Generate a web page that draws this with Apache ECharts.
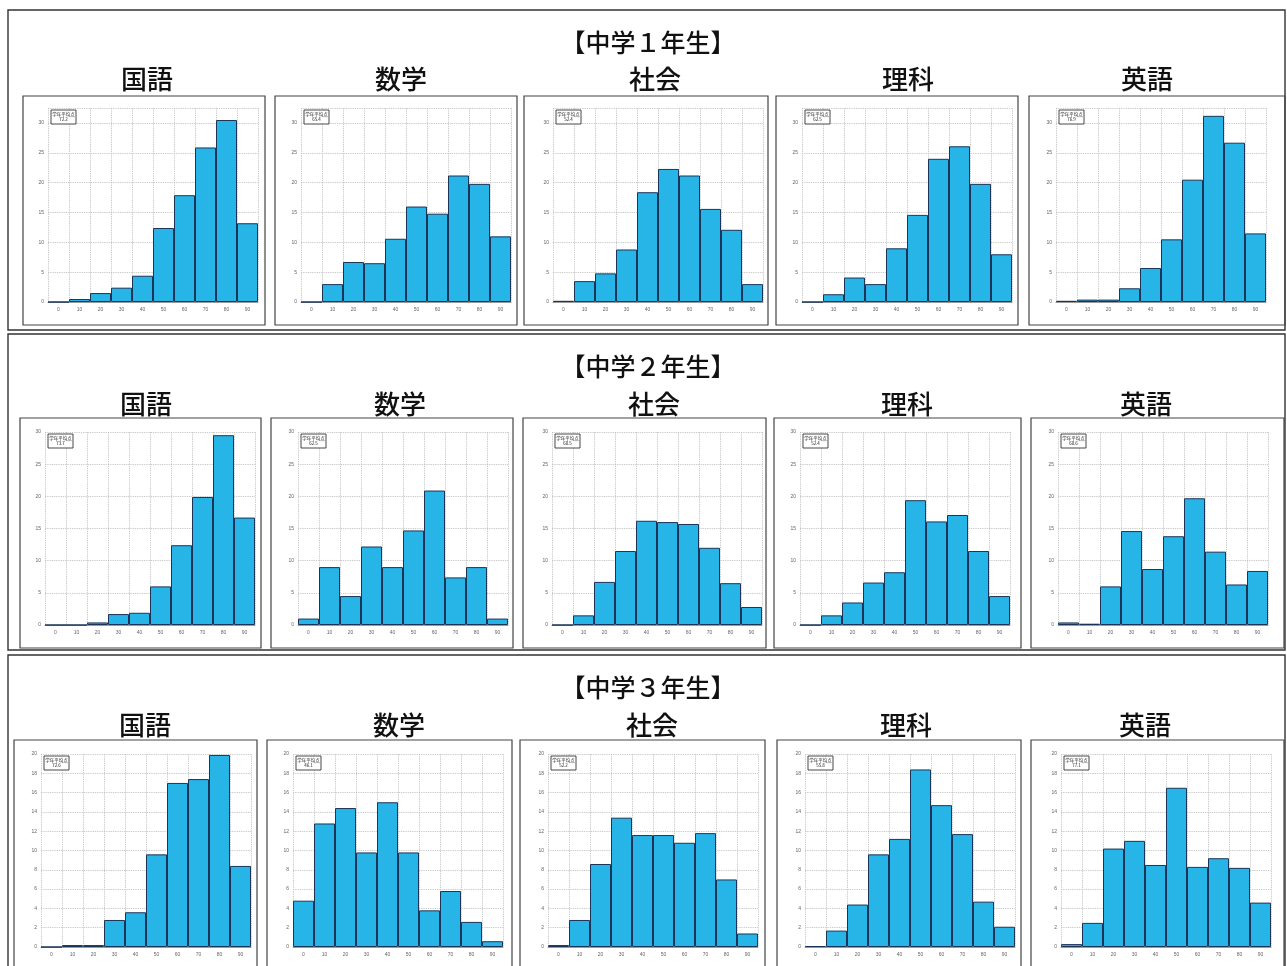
<!DOCTYPE html>
<html><head><meta charset="utf-8">
<script src="https://cdn.jsdelivr.net/npm/echarts@6/dist/echarts.min.js"></script>
<style>html,body{margin:0;padding:0;background:#fff;overflow:hidden}#c{width:1287px;height:966px}</style>
</head><body><div id="c"></div><script>
// ---------- data ----------
const binLabels = ['0','10','20','30','40','50','60','70','80','90'];
const subjects = ['国語','数学','社会','理科','英語'];
const gradeTitles = ['【中学１年生】','【中学２年生】','【中学３年生】'];

// 中学1年生 (y labels 0-30, step 5)
const g1Kokugo = [0, 0.5, 1.5, 2.4, 4.4, 12.4, 17.9, 25.9, 30.5, 13.2];
const g1Sugaku = [0, 3.0, 6.7, 6.5, 10.6, 16.0, 14.8, 21.2, 19.8, 11.0];
const g1Shakai = [0.2, 3.5, 4.8, 8.8, 18.4, 22.3, 21.2, 15.6, 12.1, 3.0];
const g1Rika   = [0, 1.3, 4.1, 3.0, 9.0, 14.6, 24.0, 26.1, 19.8, 8.0];
const g1Eigo   = [0.2, 0.4, 0.4, 2.3, 5.7, 10.5, 20.5, 31.2, 26.7, 11.5];
// 中学2年生 (y labels 0-30, step 5)
const g2Kokugo = [0, 0, 0.4, 1.7, 1.9, 6.0, 12.4, 19.9, 29.5, 16.7];
const g2Sugaku = [1.0, 9.0, 4.5, 12.2, 9.0, 14.7, 20.9, 7.4, 9.0, 1.0];
const g2Shakai = [0, 1.5, 6.7, 11.5, 16.2, 16.0, 15.7, 12.0, 6.5, 2.8];
const g2Rika   = [0, 1.5, 3.5, 6.6, 8.2, 19.4, 16.1, 17.1, 11.5, 4.5];
const g2Eigo   = [0.4, 0.2, 6.0, 14.6, 8.7, 13.8, 19.7, 11.4, 6.3, 8.4];
// 中学3年生 (y labels 0-20, step 2)
const g3Kokugo = [0, 0.2, 0.2, 2.8, 3.6, 9.6, 17.0, 17.4, 19.9, 8.4];
const g3Sugaku = [4.8, 12.8, 14.4, 9.8, 15.0, 9.8, 3.8, 5.8, 2.6, 0.6];
const g3Shakai = [0.2, 2.8, 8.6, 13.4, 11.6, 11.6, 10.8, 11.8, 7.0, 1.4];
const g3Rika   = [0.1, 1.7, 4.4, 9.6, 11.2, 18.4, 14.7, 11.7, 4.7, 2.1];
const g3Eigo   = [0.3, 2.5, 10.2, 11.0, 8.5, 16.5, 8.3, 9.2, 8.2, 4.6];

const meanLabel = '学年平均点';
const g1Means = ['72.2', '65.4', '52.4', '62.5', '76.9'];
const g2Means = ['73.7', '62.5', '60.5', '52.4', '60.6'];
const g3Means = ['72.6', '46.1', '52.2', '55.8', '77.1'];

const yStepByGrade = [5, 5, 2];
const yTopTick = [30, 30, 20];

// ---------- layout ----------
const rowsData = [
  [g1Kokugo, g1Sugaku, g1Shakai, g1Rika, g1Eigo],
  [g2Kokugo, g2Sugaku, g2Shakai, g2Rika, g2Eigo],
  [g3Kokugo, g3Sugaku, g3Shakai, g3Rika, g3Eigo]
];
const rowsMeans = [g1Means, g2Means, g3Means];
const L = {
  panels: [[8,10,1277,320],[8,334,1277,316],[8,655,1277,340]],
  titleY: [42, 366, 687],
  titleX: 648,
  subjY: [79, 404, 725],
  subjX: [[147,401,655,908,1147],[146,400,654,907,1146],[145,399,652,906,1145]],
  frames: [
    [[23,265],[275,517],[524,768],[776,1018],[1029,1285]],
    [[20,261],[271,513],[523,766],[774,1021],[1031,1284]],
    [[14,257],[267,512],[520,765],[777,1021],[1031,1284]]
  ],
  frameY: [[96,325],[418,648],[740,980]],
  plotLeft: [[48,301,553,802,1056],[45,298,552,800,1058],[41,293,548,805,1061]],
  plotW: 210,
  zeroY: [302, 625, 947],
  tickTopY: [123, 432, 754],
  extraTop: [15, 0, 0]
};

const FONT = '"Noto Sans CJK JP", "Noto Sans", sans-serif';
const grids = [], xAxes = [], yAxes = [], series = [], graphics = [];

// panels
L.panels.forEach(p => graphics.push({type:'rect', shape:{x:p[0],y:p[1],width:p[2],height:p[3]},
  style:{fill:'none', stroke:'#333', lineWidth:1.4}, silent:true}));

for (let r = 0; r < 3; r++) {
  graphics.push({type:'text', x:L.titleX, y:L.titleY[r], style:{text:gradeTitles[r], font:'500 25px '+FONT,
    fill:'#111', align:'center', verticalAlign:'middle'}});
  const unitPx = (L.zeroY[r] - L.tickTopY[r]) / yTopTick[r];
  const yMax = yTopTick[r] + L.extraTop[r] / unitPx;
  const top = L.zeroY[r] - yMax * unitPx;
  for (let c = 0; c < 5; c++) {
    const i = r * 5 + c;
    const fr = L.frames[r][c];
    graphics.push({type:'rect', shape:{x:fr[0], y:L.frameY[r][0], width:fr[1]-fr[0], height:L.frameY[r][1]-L.frameY[r][0]},
      style:{fill:'none', stroke:'#444', lineWidth:1.2}, silent:true});
    graphics.push({type:'text', x:L.subjX[r][c], y:L.subjY[r], style:{text:subjects[c], font:'500 26px '+FONT,
      fill:'#111', align:'center', verticalAlign:'middle'}});
    const left = L.plotLeft[r][c];
    grids.push({left:left, top:top, width:L.plotW, height:L.zeroY[r]-top, containLabel:false});
    xAxes.push({type:'category', gridIndex:i, data:binLabels,
      axisLine:{show:true, lineStyle:{color:'#888', width:0.8}}, axisTick:{show:false},
      axisLabel:{fontSize:5, color:'#666', margin:5, interval:0},
      splitLine:{show:true, lineStyle:{color:'#bbb', type:'dotted', width:0.9}}});
    const step = yStepByGrade[r];
    yAxes.push({type:'value', gridIndex:i, min:0, max:yMax, interval:step,
      axisLine:{show:false}, axisTick:{show:false},
      axisLabel:{fontSize:5, color:'#666', margin:4,
        formatter: v => (Math.abs(v/step - Math.round(v/step)) < 1e-6 ? String(v) : '')},
      splitLine:{show:true, lineStyle:{color:'#bbb', type:'dotted', width:0.9}}});
    series.push({type:'bar', xAxisIndex:i, yAxisIndex:i, data:rowsData[r][c],
      barCategoryGap:'0%', barGap:'0%', silent:true,
      itemStyle:{color:'#27B5E8', borderColor:'#1b3458', borderWidth:1}});
    // mean box
    const bx = left + 3, by = L.tickTopY[r] - L.extraTop[r] + 2;
    graphics.push({type:'rect', shape:{x:bx, y:by, width:25, height:14},
      style:{fill:'#fff', stroke:'#333', lineWidth:0.9}, z:20});
    graphics.push({type:'text', x:bx+12.5, y:by+7, z:21, style:{text:meanLabel+'\n'+rowsMeans[r][c],
      font:'4.5px '+FONT, fill:'#222', align:'center', verticalAlign:'middle', lineHeight:5.5}});
  }
}

const chart = echarts.init(document.getElementById('c'), null, {renderer:'canvas'});
chart.setOption({
  backgroundColor:'#fff', animation:false,
  grid:grids, xAxis:xAxes, yAxis:yAxes, series:series, graphic:graphics
});
</script></body></html>
